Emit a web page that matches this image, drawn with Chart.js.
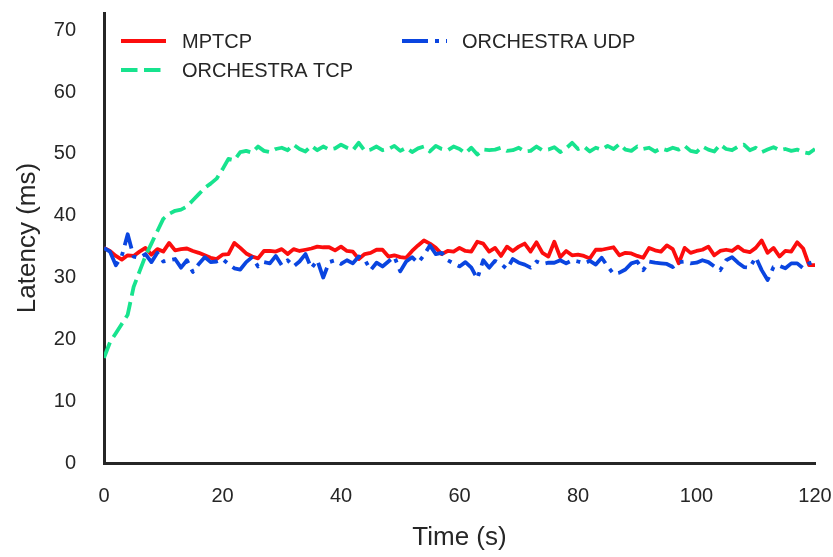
<!DOCTYPE html>
<html>
<head>
<meta charset="utf-8">
<script src="https://cdn.jsdelivr.net/npm/chart.js@4.4.0/dist/chart.umd.min.js"></script>
<style>
  html, body { margin: 0; padding: 0; background: #ffffff; }
  #wrap { width: 833px; height: 557px; position: relative; }
</style>
</head>
<body>
<div id="wrap"><canvas id="c" width="833" height="557"></canvas></div>
<script>
const seriesNames = ["MPTCP", "ORCHESTRA TCP", "ORCHESTRA UDP"];
const xTicks = [0, 20, 40, 60, 80, 100, 120];
const yTicks = [0, 10, 20, 30, 40, 50, 60, 70];

const times = [
  0,1,2,3,4,5,6,7,8,9,10,11,12,13,14,15,16,17,18,19,
  20,21,22,23,24,25,26,27,28,29,30,31,32,33,34,35,36,37,38,39,
  40,41,42,43,44,45,46,47,48,49,50,51,52,53,54,55,56,57,58,59,
  60,61,62,63,64,65,66,67,68,69,70,71,72,73,74,75,76,77,78,79,
  80,81,82,83,84,85,86,87,88,89,90,91,92,93,94,95,96,97,98,99,
  100,101,102,103,104,105,106,107,108,109,110,111,112,113,114,115,116,117,118,119,120
];

const mptcp = [
  34.8,34.3,33.5,32.9,33.6,33.5,34.2,34.8,33.7,34.6,34.2,35.6,34.4,34.6,34.7,34.3,34.0,33.6,33.2,33.0,
  33.7,33.8,35.6,34.8,33.9,33.4,33.1,34.3,34.3,34.2,34.6,33.8,34.6,34.3,34.5,34.7,35.0,34.9,34.9,34.4,
  35.0,34.3,34.2,33.0,33.8,34.0,34.5,34.5,33.4,33.6,33.3,33.2,34.3,35.2,36.0,35.5,34.8,33.8,34.3,34.2,
  34.8,34.3,34.2,35.8,35.5,34.2,34.8,33.5,35.0,34.3,35.0,35.5,34.2,35.7,34.0,33.4,35.8,33.3,34.3,33.6,
  33.7,33.5,33.1,34.5,34.5,34.7,34.9,33.6,34.0,33.9,33.5,33.2,34.8,34.4,34.2,35.2,34.6,32.3,34.8,34.0,
  34.3,34.5,35.0,33.6,34.3,34.5,34.3,35.0,34.3,34.1,34.8,36.0,34.0,34.8,33.4,34.3,34.2,35.7,34.7,32.0,32.0
];

const orchTcp = [
  17.0,19.5,21.0,22.5,24.0,28.5,31.0,33.5,35.5,37.5,39.5,40.3,40.8,41.0,41.5,42.5,43.5,44.5,45.2,46.0,
  47.5,49.2,49.0,50.3,50.5,50.2,51.2,50.5,50.3,50.8,51.0,50.6,51.5,50.8,50.4,51.3,50.6,51.2,50.7,50.9,
  51.5,51.0,50.6,51.8,50.5,50.7,51.2,50.6,50.8,51.3,50.5,51.0,50.3,50.9,51.2,50.4,51.3,50.8,50.6,51.2,
  50.8,50.1,51.0,49.9,50.7,50.6,50.7,51.0,50.5,50.6,51.0,50.4,50.5,51.2,50.6,50.7,51.1,50.3,50.9,51.8,
  50.8,51.2,50.4,51.0,50.7,51.3,50.8,51.6,50.7,50.5,51.2,50.8,51.0,50.4,50.9,50.6,51.0,50.7,51.3,50.5,
  50.3,51.2,50.7,50.4,51.5,50.8,50.6,51.2,51.5,50.6,51.0,50.3,50.7,51.1,50.6,50.8,50.5,50.7,50.3,50.1,50.8
];

const orchUdp = [
  34.8,34.2,32.0,33.5,37.0,33.4,33.2,33.8,32.5,34.0,32.6,32.8,33.0,31.6,32.8,30.9,32.2,33.3,32.5,32.6,
  33.0,32.2,31.5,31.3,32.5,33.3,31.8,32.5,32.3,33.5,32.0,32.8,31.8,32.6,33.8,31.5,32.8,30.0,32.5,32.8,
  32.2,32.8,32.3,33.4,32.9,31.2,32.4,31.8,32.6,33.4,31.0,32.6,33.3,32.4,33.6,35.2,33.8,34.0,32.8,32.3,
  31.8,32.5,31.6,29.8,32.8,31.6,32.7,32.2,31.4,33.0,32.4,32.1,31.6,32.6,32.2,32.4,32.4,32.8,32.3,32.8,
  32.6,32.3,32.7,32.1,33.2,31.8,30.6,30.8,31.3,32.3,32.6,31.2,32.6,32.4,32.3,32.2,31.7,32.5,32.6,32.3,
  32.4,32.8,32.5,31.8,31.2,32.8,33.3,32.4,31.7,31.6,33.3,31.2,29.6,31.7,31.9,31.5,32.3,32.3,31.5,32.3,32.6
];

const colors = ["#fc0d0d", "#17e38e", "#0a45e0"];
const dashes = [[], [16.5, 6.5], [26, 7, 4, 7]];
const FONT = "'Liberation Sans', Arial, Helvetica, sans-serif";
const TEXT = "#262626";

function pts(ys) { return times.map((t, i) => ({ x: t, y: ys[i] })); }

function zeroPad(s) { s.paddingTop = 0; s.paddingBottom = 0; s.paddingLeft = 0; s.paddingRight = 0; }

const legendPlugin = {
  id: 'inlineLegend',
  afterDatasetsDraw(chart) {
    const ctx = chart.ctx;
    const items = [
      { i: 0, x: 121, y: 41, tx: 182 },
      { i: 1, x: 121, y: 70, tx: 182 },
      { i: 2, x: 402, y: 41, tx: 462 }
    ];
    ctx.save();
    items.forEach(it => {
      ctx.beginPath();
      ctx.strokeStyle = colors[it.i];
      ctx.lineWidth = 4;
      ctx.lineCap = 'butt';
      ctx.setLineDash(dashes[it.i]);
      ctx.moveTo(it.x, it.y);
      ctx.lineTo(it.x + 45, it.y);
      ctx.stroke();
      ctx.setLineDash([]);
      ctx.fillStyle = TEXT;
      ctx.font = "20px " + FONT;
      ctx.textAlign = 'left';
      ctx.textBaseline = 'middle';
      ctx.fillText(seriesNames[it.i], it.tx, it.y + 1);
    });
    ctx.restore();
  }
};

const bgPlugin = {
  id: 'bg',
  beforeDraw(chart) {
    const ctx = chart.ctx;
    ctx.save();
    ctx.fillStyle = '#ffffff';
    ctx.fillRect(0, 0, chart.width, chart.height);
    ctx.restore();
  }
};

const seriesData = [mptcp, orchTcp, orchUdp];
const orders = [3, 2, 1];

new Chart(document.getElementById('c'), {
  type: 'line',
  data: {
    datasets: seriesData.map((d, i) => ({
      label: seriesNames[i],
      data: pts(d),
      borderColor: colors[i],
      backgroundColor: colors[i],
      borderWidth: 3.8,
      borderDash: dashes[i],
      borderCapStyle: 'butt',
      borderJoinStyle: 'round',
      pointRadius: 0,
      tension: 0,
      fill: false,
      order: orders[i]
    }))
  },
  options: {
    responsive: false,
    animation: false,
    devicePixelRatio: 1,
    layout: { padding: { top: 13, right: 18, left: 0, bottom: 0 } },
    plugins: { legend: { display: false }, tooltip: { enabled: false } },
    scales: {
      x: {
        type: 'linear',
        min: 0, max: 120,
        afterBuildTicks(s) { s.ticks = xTicks.map(v => ({ value: v })); },
        afterFit(s) { s.height = 94; zeroPad(s); },
        grid: { display: false, drawTicks: false },
        border: { display: true, color: '#262626', width: 3 },
        ticks: { color: TEXT, font: { family: FONT, size: 20 }, padding: 21, maxRotation: 0 },
        title: { display: true, text: 'Time (s)', color: TEXT, font: { family: FONT, size: 26 }, padding: { top: 0, bottom: 4 } }
      },
      y: {
        type: 'linear',
        min: 0, max: 72.8,
        afterBuildTicks(s) { s.ticks = yTicks.map(v => ({ value: v })); },
        afterFit(s) { s.width = 104; zeroPad(s); },
        grid: { display: false, drawTicks: false },
        border: { display: true, color: '#262626', width: 3 },
        ticks: { color: TEXT, font: { family: FONT, size: 20 }, padding: 28 },
        title: { display: true, text: 'Latency (ms)', color: TEXT, font: { family: FONT, size: 26 }, padding: { top: 12, bottom: 0 } }
      }
    }
  },
  plugins: [bgPlugin, legendPlugin]
});
</script>
</body>
</html>
